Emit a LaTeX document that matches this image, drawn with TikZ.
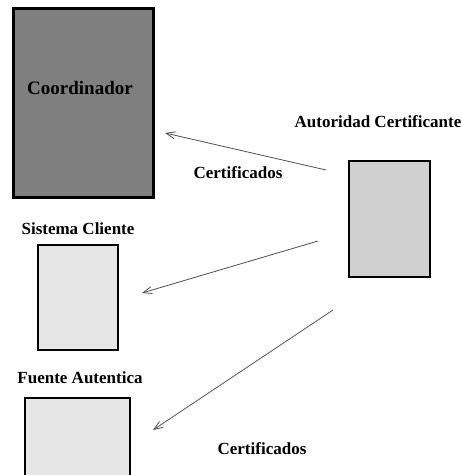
\documentclass[tikz,border=0pt]{standalone}
\usepackage{fontspec}
\setmainfont{Liberation Serif}
\usetikzlibrary{arrows.meta}
\definecolor{darkfill}{HTML}{7F7F7F}
\definecolor{midfill}{HTML}{D0D0D0}
\definecolor{lightfill}{HTML}{E6E6E6}
\definecolor{arrowgray}{HTML}{505050}
\begin{document}
\begin{tikzpicture}[x=1pt,y=1pt,
  box/.style={draw=black,anchor=south west,inner sep=0pt,outer sep=0pt},
  lbl/.style={font=\fontsize{17}{19}\selectfont\bfseries,inner sep=0pt},
  flow/.style={draw=arrowgray,line width=0.8pt,-{Straight Barb[length=9pt,width=7pt]}}]
\clip (0,0) rectangle (462,475);
\fill[white] (0,0) rectangle (462,475);
% boxes (pixel coordinates with y measured from bottom)
\node[box,line width=3pt,fill=darkfill,minimum width=140pt,minimum height=189pt] (coord) at (13.5,277.5) {};
\node[box,line width=2pt,fill=midfill,minimum width=81pt,minimum height=116pt] (ac) at (348.5,197.5) {};
\node[box,line width=2pt,fill=lightfill,minimum width=80pt,minimum height=105pt] (cli) at (37.5,124.5) {};
\node[box,line width=2pt,fill=lightfill,minimum width=105pt,minimum height=100pt] (fte) at (24.5,-23) {};
% labels
\node[font=\fontsize{19}{21}\selectfont\bfseries,inner sep=0pt] (tcoord) at (80,387) {Coordinador};
\node[lbl] (tac) at (378,353) {Autoridad Certificante};
\node[lbl] (tcert1) at (238,302) {Certificados};
\node[lbl] (tcli) at (78,246) {Sistema Cliente};
\node[lbl] (tfte) at (80,97) {Fuente Autentica};
\node[lbl] (tcert2) at (262,26) {Certificados};
% arrow end points
\coordinate (s1) at (326,305);
\coordinate (e1) at (165,342);
\coordinate (s2) at (318,234);
\coordinate (e2) at (142,182);
\coordinate (s3) at (333,165);
\coordinate (e3) at (153,45);
\draw[flow] (s1) -- (e1);
\draw[flow] (s2) -- (e2);
\draw[flow] (s3) -- (e3);
\end{tikzpicture}
\end{document}
